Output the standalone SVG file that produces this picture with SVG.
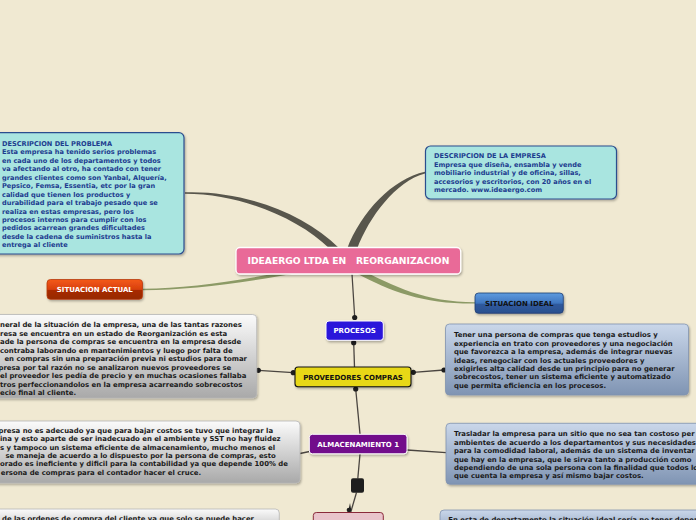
<svg xmlns="http://www.w3.org/2000/svg" width="696" height="520" viewBox="0 0 696 520">
<defs>
<filter id="sh" x="-10%" y="-10%" width="120%" height="130%"><feDropShadow dx="1" dy="1.5" stdDeviation="1" flood-color="#000" flood-opacity="0.3"/></filter>
<linearGradient id="gGrey" x1="0" y1="0" x2="0" y2="1"><stop offset="0" stop-color="#FBFBFB"/><stop offset="1" stop-color="#A9A9A9"/></linearGradient>
<linearGradient id="gBlue" x1="0" y1="0" x2="0" y2="1"><stop offset="0" stop-color="#CAD7EA"/><stop offset="1" stop-color="#7F94B3"/></linearGradient>
<linearGradient id="gAct" x1="0" y1="0" x2="0" y2="1"><stop offset="0" stop-color="#F4591A"/><stop offset="0.5" stop-color="#D8400C"/><stop offset="0.55" stop-color="#A82C00"/><stop offset="1" stop-color="#962800"/></linearGradient>
<linearGradient id="gIdeal" x1="0" y1="0" x2="0" y2="1"><stop offset="0" stop-color="#5E9BDF"/><stop offset="0.5" stop-color="#3F76C0"/><stop offset="0.55" stop-color="#2F5A9E"/><stop offset="1" stop-color="#2A4F8E"/></linearGradient>
</defs>
<style>
.t{font-family:"DejaVu Sans","Liberation Sans",sans-serif;font-weight:bold;font-size:6.6px;}
.g{font-size:6.9px;}
.dk{fill:#1A1A1A;}
.bl{fill:#1D3C8F;}
.lbl{font-family:"DejaVu Sans","Liberation Sans",sans-serif;font-weight:bold;font-size:7px;text-anchor:middle;}
.thin{fill:none;stroke:#4A4540;stroke-width:1.3;}
.dot{fill:#1E1E1E;}
</style>
<rect width="696" height="520" fill="#F0E9D2"/>

<g id="connectors">
<path d="M185,192.3 C242,190.5 303,212 339,248 L330,249 C297,217 240,194 185,193.8 Z" fill="#58564C"/>
<path d="M425,171.8 C393,178.5 361,212 347,249 L357,249 C369,217 396,181 425,173.4 Z" fill="#58564C"/>
<path d="M143,288.8 C190,288 240,281 300,268.5 L301,272.5 C242,283 190,290 143,290.3 Z" fill="#8C9A66"/>
<path d="M358,268 C395,287 425,302 475,302.2 L475,303.6 C423,304 392,292 356,273 Z" fill="#8C9A66"/>
<path class="thin" d="M352,274 L354.7,317.3"/>
<circle class="dot" cx="354.7" cy="317.5" r="2.6"/>
<path class="thin" d="M353.7,342.7 L354.5,367"/>
<circle class="dot" cx="353.7" cy="342.7" r="2.6"/>
<path class="thin" d="M355.7,389 L360,434"/>
<circle class="dot" cx="355.7" cy="389" r="2.6"/>
<path class="thin" d="M258.3,370.3 L293.3,372.7"/>
<circle class="dot" cx="258.3" cy="370.3" r="2.6"/>
<circle class="dot" cx="293.3" cy="372.7" r="2.6"/>
<path class="thin" d="M413.3,372.3 L444,370"/>
<circle class="dot" cx="413.3" cy="372.3" r="2.6"/>
<circle class="dot" cx="444" cy="370" r="2.6"/>
<path class="thin" d="M300,453.5 L309.5,451.5"/>
<path class="thin" d="M407,450 L446,452.7"/>
<path class="thin" d="M360,454 L357.8,478.5"/>
<path class="thin" d="M356.5,492.5 L350.5,513"/>
<circle class="dot" cx="349" cy="510" r="2.3"/>
<path d="M348.5,510 L350,503 L351,509 Z" fill="#1E1E1E"/>
</g>

<g id="problema">
<rect x="-8" y="132.7" width="192" height="121.3" rx="5" fill="#A9E5E0" stroke="#2C4D8E" stroke-width="1.2" filter="url(#sh)"/>
<text class="t bl" x="2"><tspan x="2" y="145.6">DESCRIPCION DEL PROBLEMA</tspan><tspan x="2" y="154.1">Esta empresa ha tenido serios problemas</tspan><tspan x="2" y="162.6">en cada uno de los departamentos y todos</tspan><tspan x="2" y="171.1">va afectando al otro, ha contado con tener</tspan><tspan x="2" y="179.5">grandes clientes como son Yanbal, Alquería,</tspan><tspan x="2" y="188">Pepsico, Femsa, Essentia, etc por la gran</tspan><tspan x="2" y="196.5">calidad que tienen los productos y</tspan><tspan x="2" y="205">durabilidad para el trabajo pesado que se</tspan><tspan x="2" y="213.5">realiza en estas empresas, pero los</tspan><tspan x="2" y="222">procesos internos para cumplir con los</tspan><tspan x="2" y="230.4">pedidos acarrean grandes dificultades</tspan><tspan x="2" y="238.9">desde la cadena de suministros hasta la</tspan><tspan x="2" y="247.4">entrega al cliente</tspan></text>
</g>

<g id="empresa">
<rect x="425.5" y="146" width="191" height="53" rx="5" fill="#A9E5E0" stroke="#2C4D8E" stroke-width="1.2" filter="url(#sh)"/>
<text class="t bl"><tspan x="434" y="158">DESCRIPCION DE LA EMPRESA</tspan><tspan x="434" y="166.6">Empresa que diseña, ensambla y vende</tspan><tspan x="434" y="175">mobiliario industrial y de oficina, sillas,</tspan><tspan x="434" y="183.6">accesorios y escritorios, con 20 años en el</tspan><tspan x="434" y="192">mercado. www.ideaergo.com</tspan></text>
</g>

<g id="central">
<rect x="236" y="247.5" width="224.7" height="26.5" rx="4" fill="#E96A98" stroke="#FFFFFF" stroke-width="1.3" filter="url(#sh)"/>
<text x="348.4" y="264.3" xml:space="preserve" style="font-family:'DejaVu Sans','Liberation Sans',sans-serif;font-weight:bold;font-size:9.2px;fill:#FFFFFF;text-anchor:middle;white-space:pre">IDEAERGO LTDA EN   REORGANIZACION</text>
</g>

<g id="situacion-actual">
<rect x="47" y="279.5" width="95.5" height="19.8" rx="3.5" fill="url(#gAct)" stroke="#B83A0C" stroke-width="0.8" filter="url(#sh)"/>
<text class="lbl" x="94.8" y="292" fill="#FFFFFF">SITUACION ACTUAL</text>
</g>

<g id="situacion-ideal">
<rect x="475" y="293" width="88.3" height="20.3" rx="3.5" fill="url(#gIdeal)" stroke="#1F3E72" stroke-width="0.8" filter="url(#sh)"/>
<text class="lbl" x="519.2" y="305.8" fill="#111111">SITUACION IDEAL</text>
</g>

<g id="procesos">
<rect x="326" y="321" width="57.3" height="19.3" rx="3" fill="#2C12DA" stroke="#FFFFFF" stroke-width="1" filter="url(#sh)"/>
<text class="lbl" x="354.7" y="333.2" fill="#FFFFFF">PROCESOS</text>
</g>

<g id="proveedores">
<rect x="295" y="367" width="116" height="19.7" rx="3" fill="#E8D817" stroke="#111111" stroke-width="1.1" filter="url(#sh)"/>
<text class="lbl" x="353" y="379.6" fill="#111111">PROVEEDORES COMPRAS</text>
</g>

<g id="almacenamiento">
<rect x="309.3" y="434.3" width="97.7" height="19.5" rx="3" fill="#72118B" stroke="#FFFFFF" stroke-width="1" filter="url(#sh)"/>
<text class="lbl" x="358.2" y="447.2" fill="#FFFFFF">ALMACENAMIENTO 1</text>
</g>

<g id="cuadro">
<rect x="351" y="478.3" width="13" height="14.4" rx="2" fill="#1E1E1E"/>
</g>

<g id="nodo-inferior">
<rect x="313.3" y="512.5" width="70" height="20" rx="3" fill="#E9C4CB" stroke="#8A2A3A" stroke-width="1"/>
</g>

<g id="actual-proveedores">
<rect x="-8" y="314.5" width="264.7" height="83.5" rx="4" fill="url(#gGrey)" stroke="#B5B5B5" stroke-width="0.8" filter="url(#sh)"/>
<text class="t g dk"><tspan x="0" y="327.4">neral de la situación de la empresa, una de las tantas razones</tspan><tspan x="0" y="335.8">resa se encuentra en un estado de Reorganización es esta</tspan><tspan x="0" y="344.2">ade la persona de compras se encuentra en la empresa desde</tspan><tspan x="0" y="352.8">contraba laborando en mantenimientos y luego por falta de</tspan><tspan x="2" y="361.3"> en compras sin una preparación previa ni estudios para tomar</tspan><tspan x="-1.5" y="369.7">presa por tal razón no se analizaron nuevos proveedores se</tspan><tspan x="0" y="378.1">el proveedor les pedía de precio y en muchas ocasiones fallaba</tspan><tspan x="0" y="386.5">tros perfeccionandolos en la empresa acarreando sobrecostos</tspan><tspan x="0" y="394.8">ecio final al cliente.</tspan></text>
</g>

<g id="ideal-proveedores">
<rect x="445.5" y="324" width="243" height="71" rx="4" fill="url(#gBlue)" stroke="#8193AE" stroke-width="0.8" filter="url(#sh)"/>
<text class="t g dk"><tspan x="454" y="337.4">Tener una persona de compras que tenga estudios y</tspan><tspan x="454" y="345.7">experiencia en trato con proveedores y una negociación</tspan><tspan x="454" y="354.3">que favorezca a la empresa, además de integrar nuevas</tspan><tspan x="454" y="362.7">ideas, renegociar con los actuales proveedores y</tspan><tspan x="454" y="371.1">exigirles alta calidad desde un principio para no generar</tspan><tspan x="454" y="379.4">sobrecostos, tener un sistema eficiente y automatizado</tspan><tspan x="454" y="387.8">que permita eficiencia en los procesos.</tspan></text>
</g>

<g id="actual-almacenamiento">
<rect x="-8" y="421" width="308" height="62" rx="4" fill="url(#gGrey)" stroke="#B5B5B5" stroke-width="0.8" filter="url(#sh)"/>
<text class="t g dk"><tspan x="-1.5" y="433.1">presa no es adecuado ya que para bajar costos se tuvo que integrar la</tspan><tspan x="0" y="441.4">ina y esto aparte de ser inadecuado en el ambiente y SST no hay fluidez</tspan><tspan x="0" y="449.7">s y tampoco un sistema eficiente de almacenamiento, mucho menos el</tspan><tspan x="3" y="458.1"> se maneja de acuerdo a lo dispuesto por la persona de compras, esto</tspan><tspan x="0" y="466.4">orado es ineficiente y dificil para la contabilidad ya que depende 100% de</tspan><tspan x="0.8" y="474.7">ersona de compras para el contador hacer el cruce.</tspan></text>
</g>

<g id="ideal-almacenamiento">
<rect x="446" y="423.3" width="260" height="61" rx="4" fill="url(#gBlue)" stroke="#8193AE" stroke-width="0.8" filter="url(#sh)"/>
<text class="t g dk"><tspan x="454" y="436.3">Trasladar la empresa para un sitio que no sea tan costoso per</tspan><tspan x="454" y="444.7">ambientes de acuerdo a los departamentos y sus necesidades</tspan><tspan x="454" y="453.1">para la comodidad laboral, además de un sistema de inventar</tspan><tspan x="454" y="461.5">que hay en la empresa, que le sirva tanto a producción como</tspan><tspan x="454" y="469.9">dependiendo de una sola persona con la finalidad que todos lo</tspan><tspan x="454" y="478.3">que cuenta la empresa y así mismo bajar costos.</tspan></text>
</g>

<g id="actual-bottom">
<rect x="-8" y="509" width="287.3" height="30" rx="4" fill="url(#gGrey)" stroke="#B5B5B5" stroke-width="0.8"/>
<text class="t g dk"><tspan x="2" y="521.3">de las ordenes de compra del cliente ya que solo se puede hacer</tspan></text>
</g>

<g id="ideal-bottom">
<rect x="440" y="510" width="266" height="30" rx="4" fill="url(#gBlue)" stroke="#8193AE" stroke-width="0.8"/>
<text class="t g dk"><tspan x="448.3" y="521.5">En esta de departamento la situación ideal sería no tener depen</tspan></text>
</g>
</svg>
